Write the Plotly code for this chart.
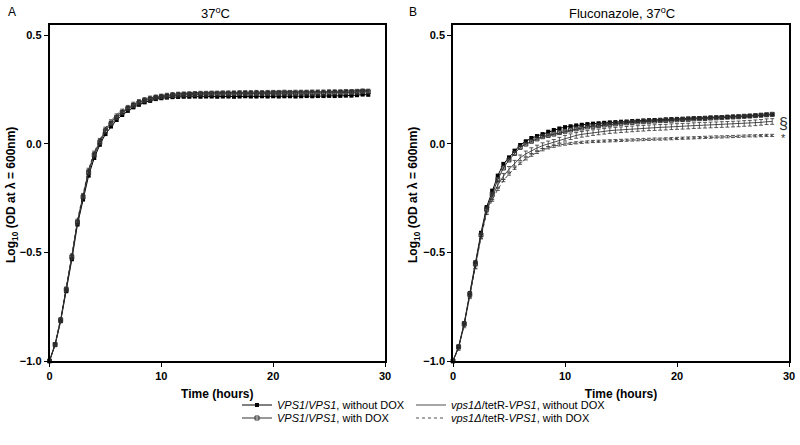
import plotly.graph_objects as go

# ---------------- data ----------------
time_h = [0.0, 0.5, 1.0, 1.5, 2.0, 2.5, 3.0, 3.5, 4.0, 4.5,
          5.0, 5.5, 6.0, 6.5, 7.0, 7.5, 8.0, 8.5, 9.0, 9.5,
          10.0, 10.5, 11.0, 11.5, 12.0, 12.5, 13.0, 13.5, 14.0, 14.5,
          15.0, 15.5, 16.0, 16.5, 17.0, 17.5, 18.0, 18.5, 19.0, 19.5,
          20.0, 20.5, 21.0, 21.5, 22.0, 22.5, 23.0, 23.5, 24.0, 24.5,
          25.0, 25.5, 26.0, 26.5, 27.0, 27.5, 28.0, 28.5]

# Panel A: 37 C
A_wt_noDOX = [-1.000, -0.927, -0.817, -0.679, -0.532, -0.372, -0.257, -0.147, -0.066, -0.005,
              0.044, 0.079, 0.109, 0.132, 0.151, 0.167, 0.179, 0.190, 0.197, 0.205,
              0.209, 0.212, 0.214, 0.215, 0.216, 0.216, 0.217, 0.216, 0.217, 0.217,
              0.216, 0.217, 0.217, 0.216, 0.217, 0.218, 0.217, 0.217, 0.218, 0.217,
              0.218, 0.217, 0.218, 0.218, 0.217, 0.218, 0.219, 0.218, 0.219, 0.219,
              0.220, 0.219, 0.220, 0.221, 0.221, 0.223, 0.226, 0.225]
A_wt_DOX = [-1.000, -0.924, -0.812, -0.672, -0.522, -0.362, -0.245, -0.132, -0.052, 0.006,
            0.058, 0.092, 0.120, 0.143, 0.161, 0.176, 0.188, 0.198, 0.205, 0.211,
            0.216, 0.219, 0.222, 0.224, 0.225, 0.226, 0.227, 0.228, 0.228, 0.229,
            0.229, 0.230, 0.229, 0.230, 0.230, 0.231, 0.230, 0.231, 0.231, 0.231,
            0.232, 0.231, 0.232, 0.232, 0.231, 0.232, 0.233, 0.232, 0.233, 0.233,
            0.234, 0.234, 0.235, 0.235, 0.236, 0.237, 0.240, 0.238]
A_mut_noDOX = [-1.000, -0.922, -0.808, -0.667, -0.516, -0.356, -0.238, -0.123, -0.044, 0.014,
               0.066, 0.099, 0.126, 0.148, 0.166, 0.181, 0.193, 0.203, 0.210, 0.216,
               0.220, 0.224, 0.227, 0.229, 0.230, 0.231, 0.232, 0.233, 0.233, 0.234,
               0.234, 0.235, 0.235, 0.235, 0.236, 0.236, 0.236, 0.237, 0.236, 0.237,
               0.237, 0.237, 0.238, 0.237, 0.238, 0.238, 0.238, 0.239, 0.239, 0.239,
               0.240, 0.240, 0.240, 0.241, 0.241, 0.242, 0.244, 0.243]
A_mut_DOX = [-1.000, -0.920, -0.805, -0.663, -0.511, -0.351, -0.233, -0.117, -0.038, 0.020,
             0.072, 0.106, 0.133, 0.155, 0.172, 0.187, 0.199, 0.208, 0.215, 0.220,
             0.224, 0.228, 0.231, 0.233, 0.234, 0.235, 0.236, 0.237, 0.237, 0.238,
             0.238, 0.239, 0.239, 0.239, 0.240, 0.240, 0.240, 0.241, 0.240, 0.241,
             0.241, 0.241, 0.242, 0.241, 0.242, 0.242, 0.242, 0.243, 0.243, 0.243,
             0.244, 0.244, 0.244, 0.245, 0.245, 0.246, 0.248, 0.247]

# Panel B: Fluconazole, 37 C
B_wt_noDOX = [-1.000, -0.934, -0.826, -0.688, -0.546, -0.410, -0.292, -0.216, -0.147, -0.093,
              -0.063, -0.032, -0.006, 0.011, 0.026, 0.035, 0.044, 0.055, 0.063, 0.070,
              0.076, 0.080, 0.084, 0.087, 0.090, 0.092, 0.094, 0.096, 0.098, 0.099,
              0.101, 0.102, 0.104, 0.105, 0.107, 0.108, 0.109, 0.110, 0.112, 0.113,
              0.114, 0.115, 0.116, 0.117, 0.118, 0.119, 0.120, 0.121, 0.122, 0.123,
              0.124, 0.125, 0.126, 0.128, 0.129, 0.131, 0.133, 0.134]
B_wt_DOX = [-1.000, -0.936, -0.830, -0.694, -0.553, -0.420, -0.302, -0.232, -0.165, -0.112,
            -0.075, -0.045, -0.017, -0.002, 0.011, 0.022, 0.032, 0.038, 0.044, 0.051,
            0.057, 0.063, 0.068, 0.072, 0.077, 0.080, 0.083, 0.086, 0.089, 0.091,
            0.094, 0.096, 0.098, 0.100, 0.101, 0.103, 0.104, 0.106, 0.107, 0.108,
            0.110, 0.111, 0.112, 0.114, 0.115, 0.116, 0.118, 0.119, 0.120, 0.122,
            0.123, 0.124, 0.126, 0.127, 0.129, 0.131, 0.133, 0.135]
B_mut_noDOX = [-1.000, -0.938, -0.834, -0.700, -0.563, -0.425, -0.312, -0.245, -0.190, -0.150,
               -0.118, -0.090, -0.065, -0.047, -0.032, -0.020, -0.009, -0.001, 0.006, 0.016,
               0.025, 0.032, 0.038, 0.043, 0.047, 0.051, 0.054, 0.057, 0.060, 0.062,
               0.064, 0.066, 0.068, 0.070, 0.071, 0.073, 0.074, 0.075, 0.076, 0.078,
               0.079, 0.080, 0.081, 0.083, 0.084, 0.085, 0.086, 0.087, 0.088, 0.089,
               0.090, 0.091, 0.093, 0.094, 0.096, 0.098, 0.101, 0.102]
B_mut_DOX = [-1.000, -0.938, -0.835, -0.703, -0.568, -0.432, -0.320, -0.260, -0.210, -0.170,
             -0.140, -0.113, -0.090, -0.070, -0.053, -0.040, -0.028, -0.019, -0.012, -0.006,
             -0.002, 0.001, 0.004, 0.006, 0.008, 0.010, 0.011, 0.012, 0.013, 0.014,
             0.015, 0.016, 0.017, 0.018, 0.019, 0.020, 0.021, 0.021, 0.022, 0.023,
             0.024, 0.025, 0.026, 0.027, 0.028, 0.029, 0.030, 0.031, 0.031, 0.032,
             0.033, 0.034, 0.035, 0.036, 0.036, 0.037, 0.038, 0.038]

# approximate error-bar half-heights (SEM) per series
sem_A = {"wt_noDOX": 0.005, "wt_DOX": 0.005, "mut_noDOX": 0.005, "mut_DOX": 0.004}
sem_B = {"wt_noDOX": 0.004, "wt_DOX": 0.004, "mut_noDOX": 0.013, "mut_DOX": 0.005}

series_names = {
    "wt_noDOX": "<i>VPS1</i>/<i>VPS1</i>, without DOX",
    "wt_DOX": "<i>VPS1</i>/<i>VPS1</i>, with DOX",
    "mut_noDOX": "<i>vps1Δ</i>/tetR-<i>VPS1</i>, without DOX",
    "mut_DOX": "<i>vps1Δ</i>/tetR-<i>VPS1</i>, with DOX",
}
panel_titles = ["37<sup>o</sup>C", "Fluconazole, 37<sup>o</sup>C"]
panel_letters = ["A", "B"]
x_title = "Time (hours)"
y_title = "Log<sub>10</sub> (OD at λ = 600nm)"
x_ticks = [0, 10, 20, 30]
y_ticks = [-1.0, -0.5, 0.0, 0.5]

FONT = "Liberation Sans, Arial, sans-serif"
FW, FH = 800, 445


def px(x):
    return x / FW


def py(y):
    return 1 - y / FH


styles = {
    "wt_noDOX": dict(mode="lines+markers",
                     line=dict(color="black", width=1),
                     marker=dict(symbol="square", size=4, color="black")),
    "wt_DOX": dict(mode="lines+markers",
                   line=dict(color="#333333", width=1),
                   marker=dict(symbol="square-open", size=4, color="#333333",
                               line=dict(width=1))),
    "mut_noDOX": dict(mode="lines",
                      line=dict(color="#222222", width=0.8)),
    "mut_DOX": dict(mode="lines",
                    line=dict(color="#222222", width=0.8, dash="dot")),
}
legend_for = {"wt_noDOX": "legend", "mut_noDOX": "legend2",
              "wt_DOX": "legend3", "mut_DOX": "legend4"}

fig = go.Figure()

panels = [
    ("x", "y", {"wt_noDOX": A_wt_noDOX, "wt_DOX": A_wt_DOX,
                "mut_noDOX": A_mut_noDOX, "mut_DOX": A_mut_DOX}, sem_A, True),
    ("x2", "y2", {"wt_noDOX": B_wt_noDOX, "wt_DOX": B_wt_DOX,
                  "mut_noDOX": B_mut_noDOX, "mut_DOX": B_mut_DOX}, sem_B, False),
]
order = ["wt_noDOX", "mut_noDOX", "wt_DOX", "mut_DOX"]
for xa, ya, data, sem, show in panels:
    for key in order:
        st = styles[key]
        fig.add_trace(go.Scatter(
            x=time_h, y=data[key], xaxis=xa, yaxis=ya,
            name=series_names[key], showlegend=show, legend=legend_for[key],
            error_y=dict(type="constant", value=sem[key], color="#333333",
                         thickness=0.8, width=2),
            cliponaxis=False, **st))

axis_common = dict(showline=True, linecolor="black", linewidth=1.5, mirror=True,
                   ticks="outside", ticklen=4, tickwidth=1.2, tickcolor="black",
                   showgrid=False, zeroline=False, automargin=False,
                   tickfont=dict(family=FONT, size=11, color="black", weight="bold"))

xdom = [[px(49.5), px(385)], [px(453), px(789)]]
ydom = [py(361), py(25)]

for i, (xa, ya) in enumerate([("xaxis", "yaxis"), ("xaxis2", "yaxis2")]):
    fig.layout[xa] = dict(domain=xdom[i], range=[0, 30], tickvals=x_ticks,
                          anchor="y" if i == 0 else "y2",
                          title=dict(text=x_title, standoff=9,
                                     font=dict(family=FONT, size=12, color="black",
                                               weight="bold")),
                          **axis_common)
    fig.layout[ya] = dict(domain=ydom, range=[-1.0, 0.546], tickvals=y_ticks,
                          tickformat=".1f",
                          anchor="x" if i == 0 else "x2",
                          **axis_common)

annotations = []
title_cx = [215, 622]
ytitle_cx = [12, 414]
for i in range(2):
    annotations.append(dict(text=panel_titles[i], x=px(title_cx[i]), y=py(13), xref="paper",
                            yref="paper", showarrow=False, xanchor="center",
                            yanchor="middle",
                            font=dict(family=FONT, size=13, color="black")))
    annotations.append(dict(text=y_title, x=px(ytitle_cx[i]), y=py(195), xref="paper",
                            yref="paper", showarrow=False, xanchor="center",
                            yanchor="middle", textangle=-90,
                            font=dict(family=FONT, size=12, color="black",
                                      weight="bold")))
annotations.append(dict(text=panel_letters[0], x=px(12), y=py(12), xref="paper",
                        yref="paper", showarrow=False, xanchor="center", yanchor="middle",
                        font=dict(family=FONT, size=12, color="black")))
annotations.append(dict(text=panel_letters[1], x=px(413), y=py(12), xref="paper",
                        yref="paper", showarrow=False, xanchor="center", yanchor="middle",
                        font=dict(family=FONT, size=12, color="black")))
annotations.append(dict(text="§", x=px(783), y=py(123), xref="paper", yref="paper",
                        showarrow=False, xanchor="center", yanchor="middle",
                        font=dict(family=FONT, size=16, color="#333333")))
annotations.append(dict(text="*", x=px(783), y=py(138), xref="paper", yref="paper",
                        showarrow=False, xanchor="center", yanchor="middle",
                        font=dict(family=FONT, size=11, color="#333333")))


def leg(xpx, ypx):
    return dict(x=px(xpx), y=py(ypx), xanchor="left", yanchor="middle",
                orientation="v", font=dict(family=FONT, size=11, color="black"),
                bgcolor="rgba(0,0,0,0)", itemwidth=30, tracegroupgap=0)


fig.update_layout(
    width=FW, height=FH,
    margin=dict(l=0, r=0, t=0, b=0),
    paper_bgcolor="white", plot_bgcolor="white",
    annotations=annotations,
    legend=leg(237, 405),
    legend2=leg(411, 405),
    legend3=leg(237, 418),
    legend4=leg(411, 418),
    font=dict(family=FONT, color="black"),
)

fig.write_html("out.html",
               config={"displayModeBar": False},
               post_script="document.body.style.margin='0';"
                           "document.body.style.overflow='hidden';")
